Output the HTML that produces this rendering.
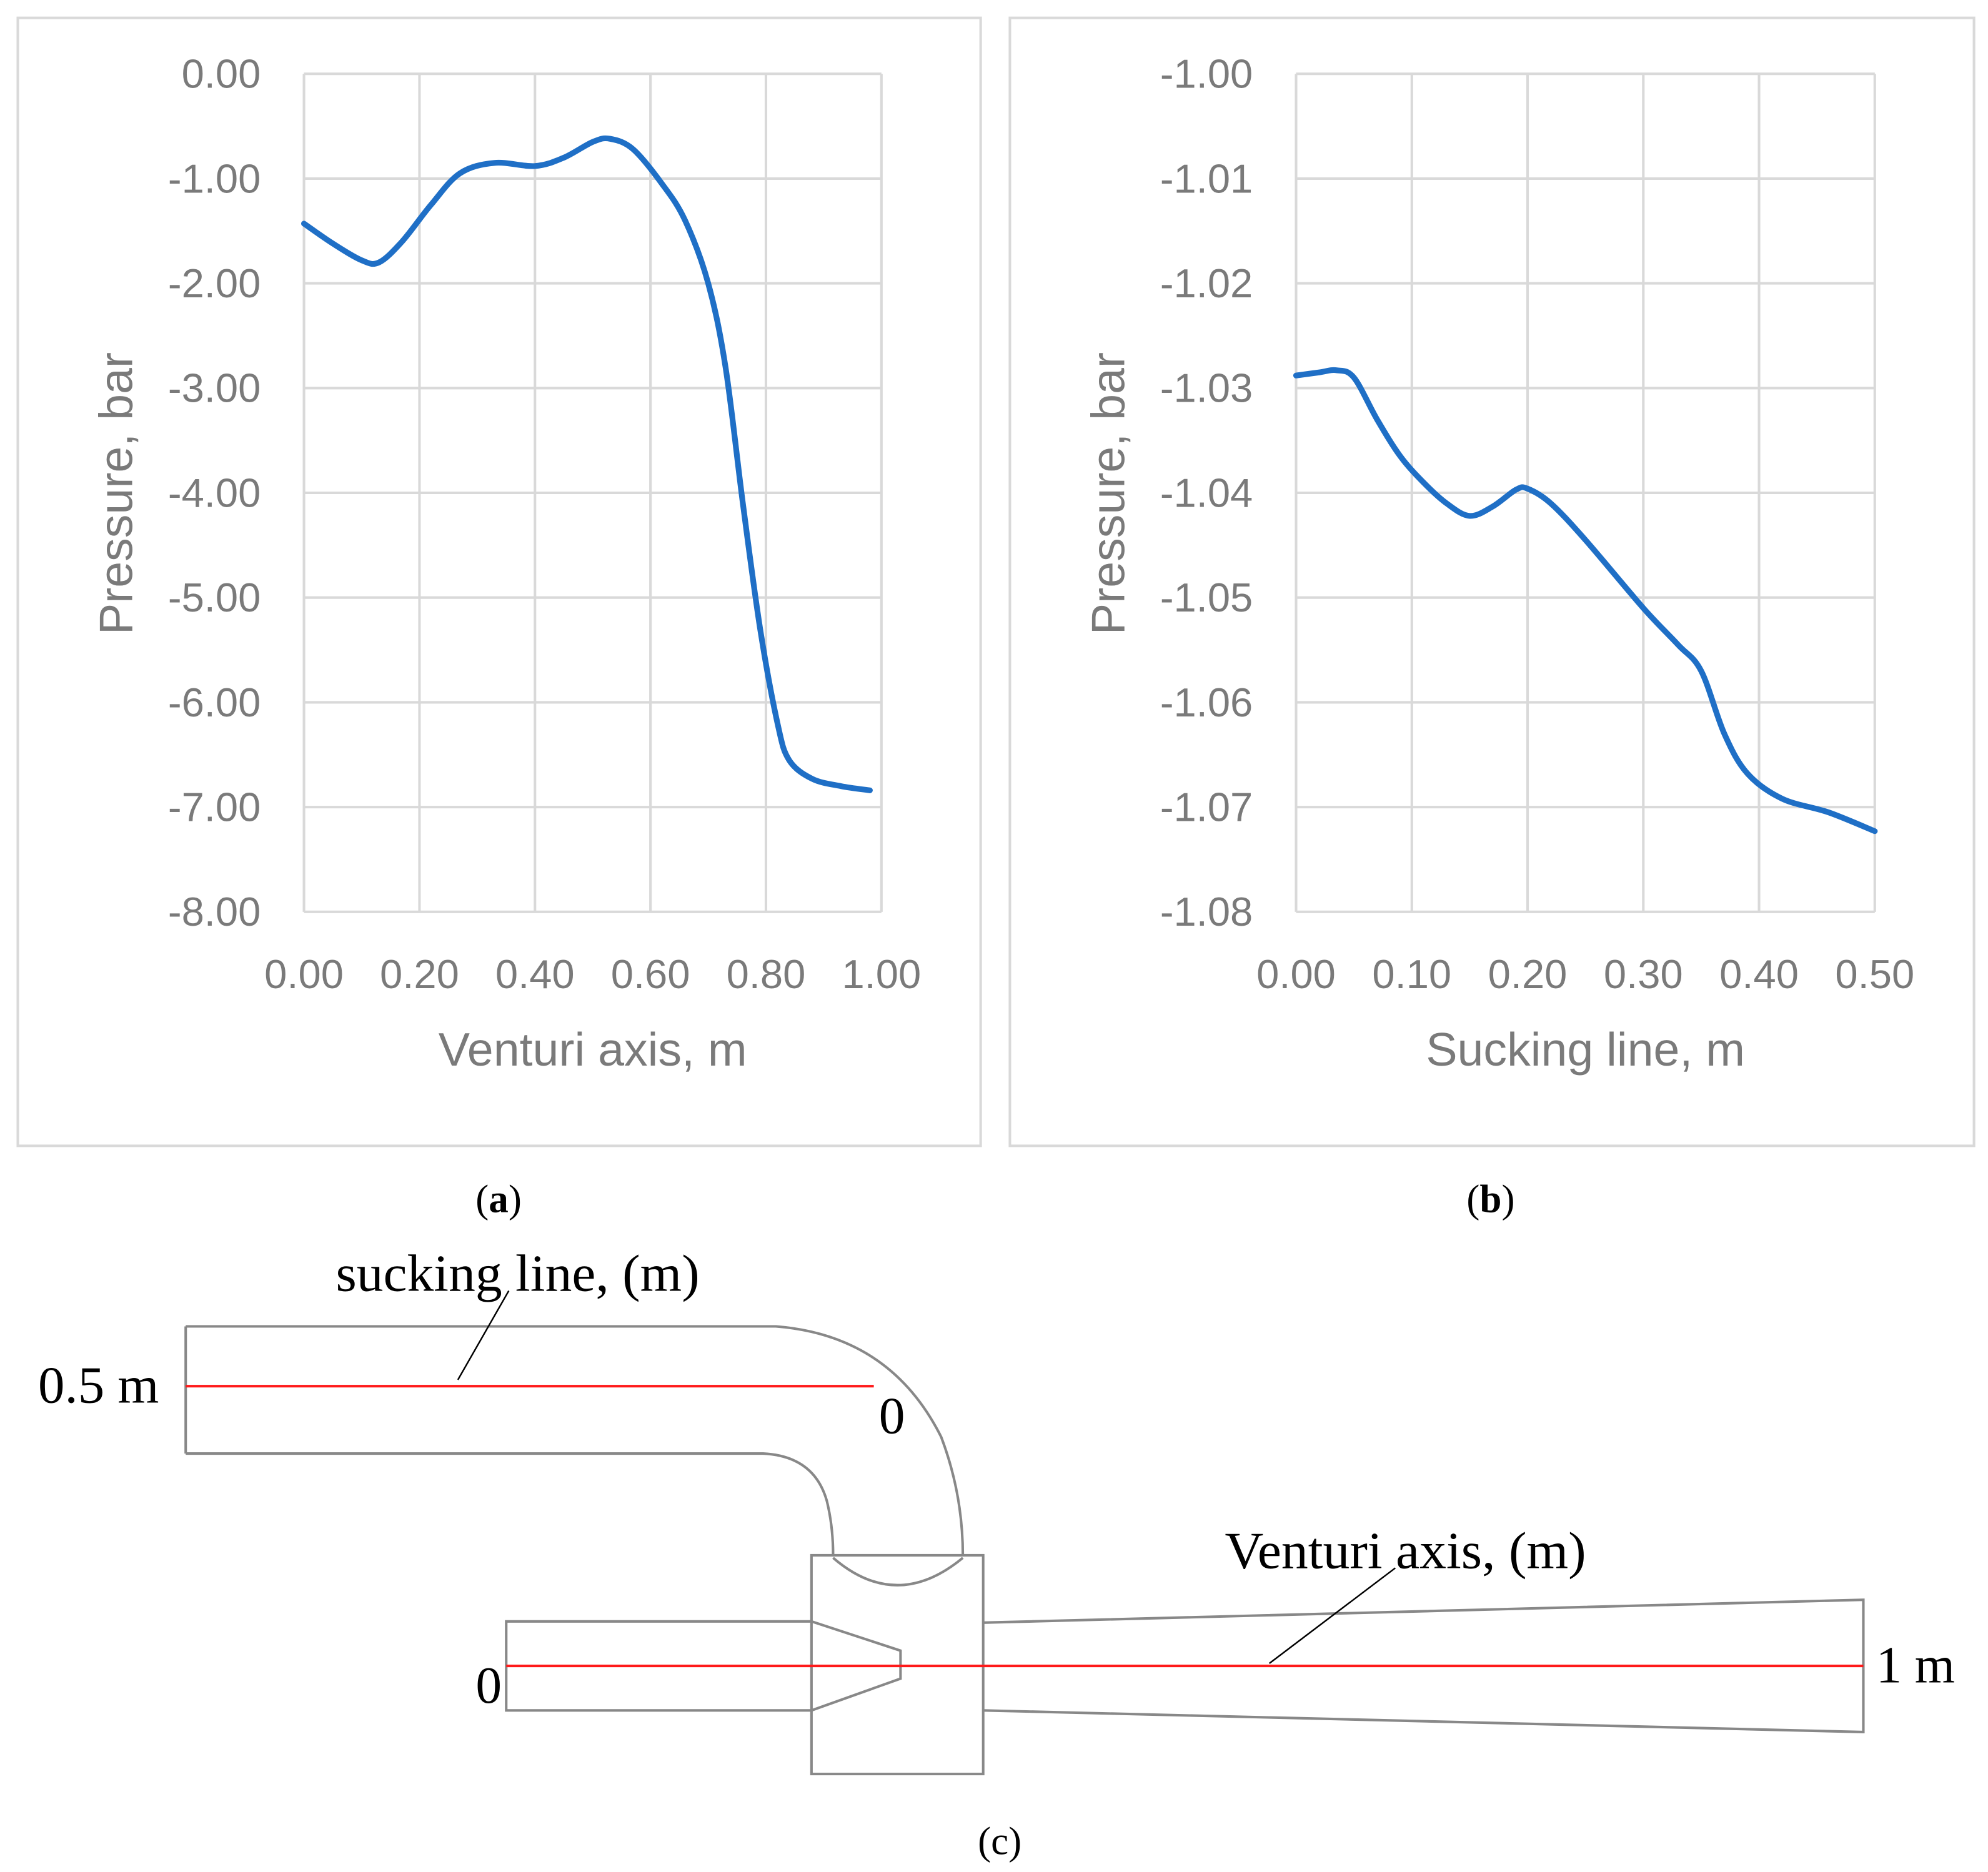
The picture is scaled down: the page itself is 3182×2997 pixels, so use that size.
<!DOCTYPE html>
<html><head><meta charset="utf-8"><style>
html,body{margin:0;padding:0;background:#fff}
svg{display:block}
.tick{font-family:"Liberation Sans",sans-serif;font-size:32px;fill:#7a7a7a}
.ttl{font-family:"Liberation Sans",sans-serif;font-size:37px;fill:#7a7a7a}
.cap{font-family:"Liberation Serif",serif;font-size:31px;fill:#000}
.dg{font-family:"Liberation Serif",serif;font-size:41px;fill:#000}
</style></head><body>
<svg id="fig" width="3182" height="2997" viewBox="0 0 1563 1472" xmlns="http://www.w3.org/2000/svg">
<rect x="14" y="14" width="757" height="887" fill="#fff" stroke="#d9d9d9" stroke-width="2"/>
<rect x="794" y="14" width="758" height="887" fill="#fff" stroke="#d9d9d9" stroke-width="2"/>
<g id="chartA"></g>
<g id="chartB"></g>
<text x="392" y="953" text-anchor="middle" class="cap">(<tspan font-weight="bold">a</tspan>)</text>
<text x="1172" y="953" text-anchor="middle" class="cap">(<tspan font-weight="bold">b</tspan>)</text>

<g fill="none" stroke="#888" stroke-width="2">
  <path d="M146,1043 L610,1043 Q700,1050 740,1130 Q757,1175 757,1223"/>
  <path d="M146,1143 L600,1143 Q640,1145 650,1180 Q655,1200 655,1223"/>
  <line x1="146" y1="1043" x2="146" y2="1143"/>
  <rect x="638" y="1223" width="135" height="172"/>
  <path d="M655,1225 Q705,1268 757,1225"/>
  <path d="M638,1275 L398,1275 L398,1345 L638,1345"/>
  <path d="M638,1275 L708,1298 L708,1320 L638,1345"/>
  <path d="M773,1276 L1465,1258 L1465,1362 L773,1345"/>
</g>
<line x1="146" y1="1090" x2="687" y2="1090" stroke="#ff1a1a" stroke-width="2"/>
<line x1="398" y1="1310" x2="1465" y2="1310" stroke="#ff1a1a" stroke-width="2"/>
<line x1="400" y1="1015" x2="360" y2="1085" stroke="#000" stroke-width="1.2"/>
<line x1="1097" y1="1233" x2="998" y2="1308" stroke="#000" stroke-width="1.2"/>
<text x="264" y="1015" class="dg" textLength="286" lengthAdjust="spacingAndGlyphs">sucking line, (m)</text>
<text x="963" y="1233" class="dg" textLength="284" lengthAdjust="spacingAndGlyphs">Venturi axis, (m)</text>
<text x="30" y="1103" class="dg" textLength="95" lengthAdjust="spacingAndGlyphs">0.5 m</text>
<text x="691" y="1127" class="dg">0</text>
<text x="374" y="1339" class="dg">0</text>
<text x="1475" y="1323" class="dg" textLength="62" lengthAdjust="spacingAndGlyphs">1 m</text>
<text x="786" y="1458" text-anchor="middle" class="cap">(c)</text>
</svg>
<script>
const aX=[0,0.05,0.1,0.13,0.17,0.22,0.27,0.33,0.4,0.45,0.5,0.53,0.57,0.62,0.66,0.7,0.73,0.76,0.79,0.82,0.84,0.88,0.93,0.98];
const aY=[-1.43,-1.62,-1.78,-1.8,-1.6,-1.25,-0.95,-0.85,-0.88,-0.8,-0.65,-0.62,-0.72,-1.05,-1.4,-2.0,-2.8,-4.1,-5.3,-6.2,-6.55,-6.73,-6.8,-6.84];
const aXTicks=[0,0.2,0.4,0.6,0.8,1.0];
const aYTicks=[0,-1,-2,-3,-4,-5,-6,-7,-8];
const bX=[0,0.02,0.035,0.05,0.07,0.09,0.11,0.13,0.15,0.17,0.19,0.2,0.22,0.25,0.3,0.33,0.35,0.37,0.39,0.42,0.46,0.5];
const bY=[-1.0288,-1.0285,-1.0283,-1.029,-1.033,-1.0365,-1.039,-1.041,-1.0422,-1.0413,-1.0397,-1.0396,-1.041,-1.0445,-1.051,-1.0545,-1.057,-1.063,-1.0668,-1.0692,-1.0705,-1.0723];
const bXTicks=[0,0.1,0.2,0.3,0.4,0.5];
const bYTicks=[-1.00,-1.01,-1.02,-1.03,-1.04,-1.05,-1.06,-1.07,-1.08];
const NS="http://www.w3.org/2000/svg";
function mk(t,a,p){const e=document.createElementNS(NS,t);for(const k in a)e.setAttribute(k,a[k]);p.appendChild(e);return e;}
function draw(gid,L,R,xs,ys,xt,yt,xmax,ymin,ymax,xtitle,pre){
  const g=document.getElementById(gid),T=58,B=717;
  const sx=v=>L+v/xmax*(R-L), sy=v=>T+(ymax-v)/(ymax-ymin)*(B-T);
  xt.forEach(v=>{const l=mk('line',{x1:sx(v),x2:sx(v),y1:T,y2:B,stroke:'#d9d9d9','stroke-width':2},g);
    
    
    const t=mk('text',{x:sx(v),y:777,'text-anchor':'middle',class:'tick'},g);t.textContent=v.toFixed(2);
    
    });
  yt.forEach(v=>{const l=mk('line',{x1:L,x2:R,y1:sy(v),y2:sy(v),stroke:'#d9d9d9','stroke-width':2},g);
    
    
    const t=mk('text',{x:L-34,y:sy(v)+11,'text-anchor':'end',class:'tick'},g);t.textContent=v.toFixed(2);
    
    });
  const P=xs.map((x,i)=>[sx(x),sy(ys[i])]);
  let d='M'+P[0][0]+','+P[0][1];
  for(let i=0;i<P.length-1;i++){const p0=P[Math.max(0,i-1)],p1=P[i],p2=P[i+1],p3=P[Math.min(P.length-1,i+2)];
    d+=' C'+(p1[0]+(p2[0]-p0[0])/6)+','+(p1[1]+(p2[1]-p0[1])/6)+' '+(p2[0]-(p3[0]-p1[0])/6)+','+(p2[1]-(p3[1]-p1[1])/6)+' '+p2[0]+','+p2[1];}
  const path=mk('path',{d:d,fill:'none',stroke:'#1f6fc6','stroke-width':4.5,'stroke-linecap':'round'},g);
  
  
  const xtt=mk('text',{x:(L+R)/2,y:838,'text-anchor':'middle',class:'ttl'},g);xtt.textContent=xtitle;
  
  
  const cx=L-135,cy=388;
  const ytt=mk('text',{x:cx,y:cy,'text-anchor':'middle',class:'ttl',transform:'rotate(-90 '+cx+' '+cy+')'},g);ytt.textContent='Pressure, bar';
  
  
}
draw('chartA',239,693,aX,aY,aXTicks,aYTicks,1.0,-8,0,'Venturi axis, m','chart-a');
draw('chartB',1019,1474,bX,bY,bXTicks,bYTicks,0.5,-1.08,-1.00,'Sucking line, m','chart-b');
</script>
</body></html>
